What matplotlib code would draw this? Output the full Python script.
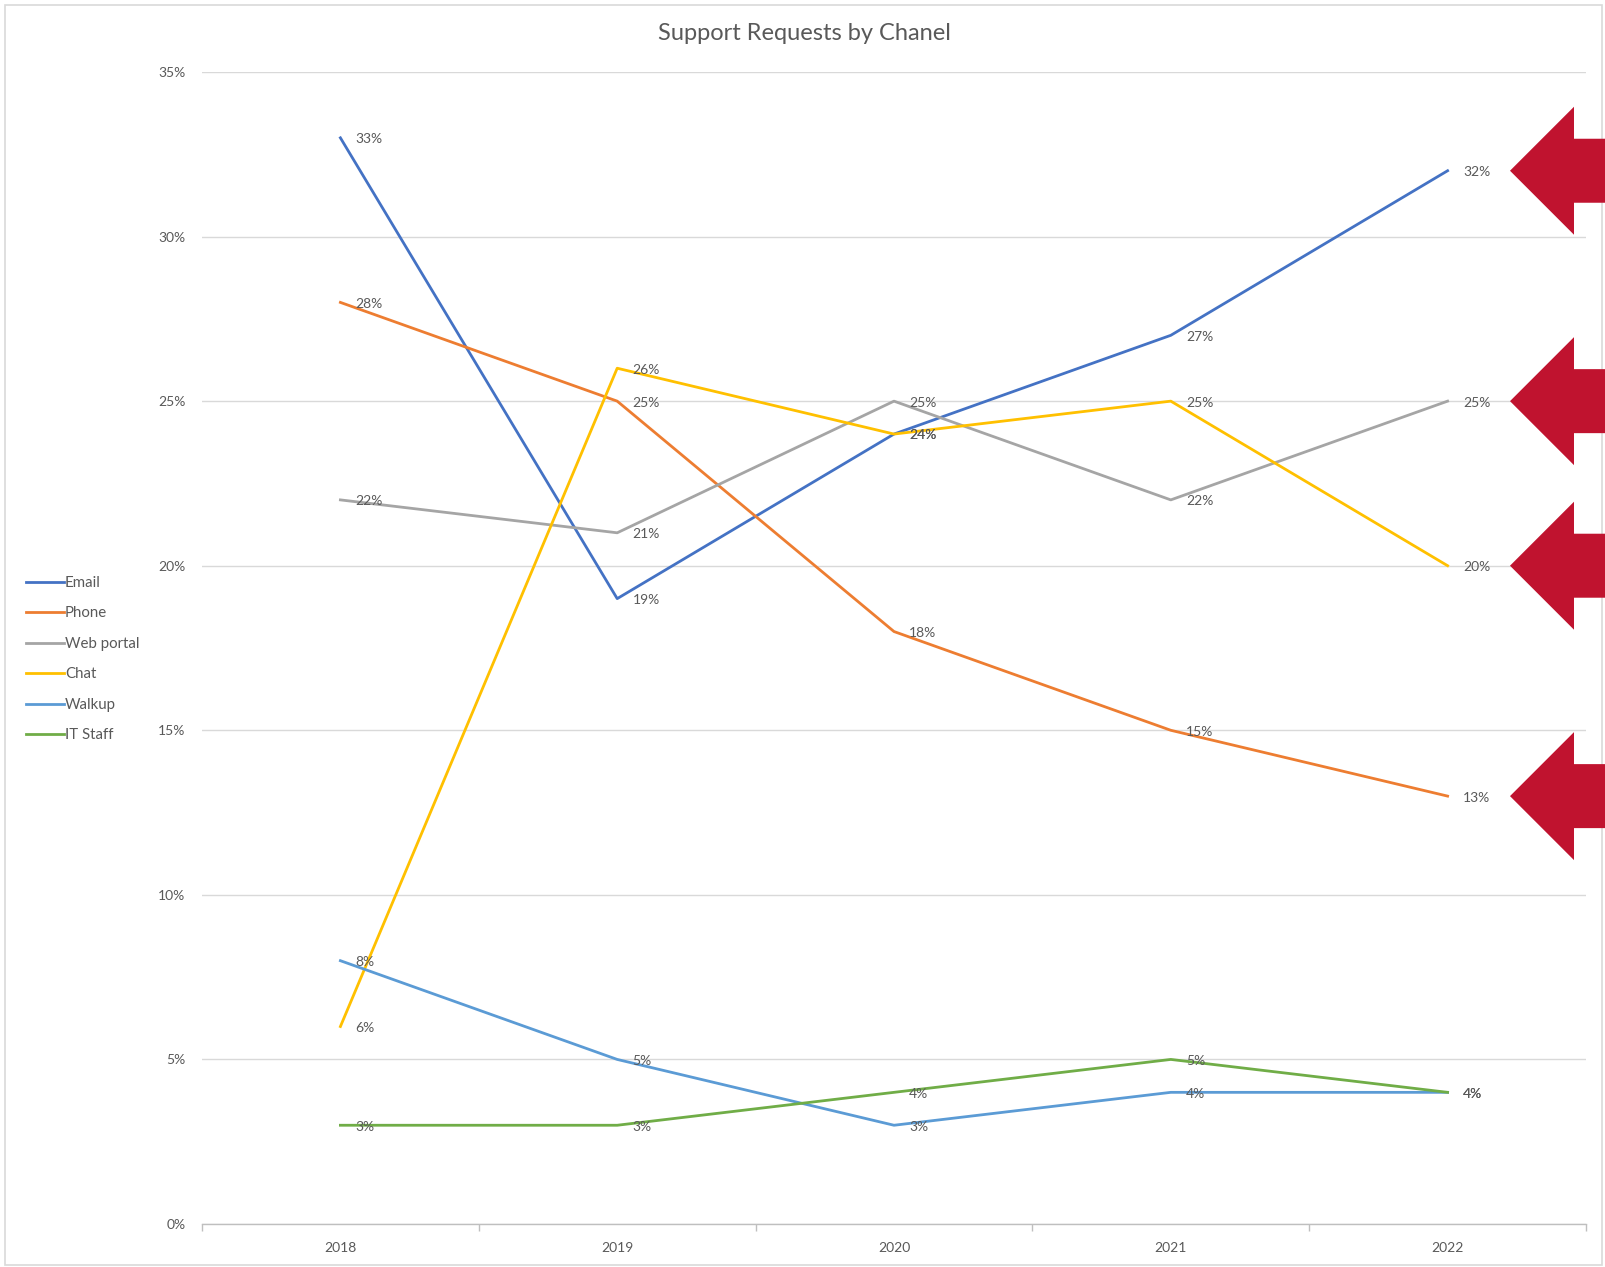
import matplotlib
matplotlib.use("Agg")
import matplotlib.pyplot as plt
from matplotlib.patches import Polygon, Rectangle
from matplotlib.ticker import FixedLocator

# Chart data (percent of support requests)
years = ["2018", "2019", "2020", "2021", "2022"]
email = [33, 19, 24, 27, 32]
phone = [28, 25, 18, 15, 13]
web_portal = [22, 21, 25, 22, 25]
chat = [6, 26, 24, 25, 20]
walkup = [8, 5, 3, 4, 4]
it_staff = [3, 3, 4, 5, 4]

series_names = ["Email", "Phone", "Web portal", "Chat", "Walkup", "IT Staff"]
series_values = [email, phone, web_portal, chat, walkup, it_staff]
series_colors = ["#4472C4", "#ED7D31", "#A5A5A5", "#FFC000", "#5B9BD5", "#70AD47"]

# 2022 values pointed at by the red arrows
highlighted = [32, 25, 20, 13]

TEXT = "#595959"
GRID = "#D9D9D9"
plt.rcParams["font.family"] = ["Lato", "DejaVu Sans"]

W, H = 1605, 1267
fig = plt.figure(figsize=(W / 100, H / 100), dpi=100)
fig.subplots_adjust(left=202 / W, right=1586 / W, top=1 - 72 / H, bottom=1 - 1224 / H)
ax = fig.add_subplot(111)

x = list(range(len(years)))
for name, vals, col in zip(series_names, series_values, series_colors):
    ax.plot(x, vals, color=col, lw=2.0, label=name, zorder=3)
    for xi, v in zip(x, vals):
        ax.annotate(f"{v}%", (xi, v), xytext=(11, -1), textcoords="offset points",
                    va="center", ha="left", fontsize=10, color=TEXT, zorder=4)

ax.set_xlim(-0.5, len(years) - 0.5)
ax.set_ylim(0, 35)
ax.set_yticks(range(0, 36, 5))
ax.set_yticklabels([f"{t}%" for t in range(0, 36, 5)])
ax.set_xticks(x)
ax.set_xticklabels(years)
ax.xaxis.set_minor_locator(FixedLocator([i - 0.5 for i in range(len(years) + 1)]))
ax.tick_params(axis="x", which="major", length=0, pad=13, labelsize=10, labelcolor=TEXT)
ax.tick_params(axis="x", which="minor", length=5, color="#BFBFBF", width=1)
ax.tick_params(axis="y", length=0, pad=12, labelsize=10, labelcolor=TEXT)
ax.grid(axis="y", color=GRID, lw=1, zorder=0)
for s in ["top", "right", "left"]:
    ax.spines[s].set_visible(False)
ax.spines["bottom"].set_color("#BFBFBF")
ax.spines["bottom"].set_linewidth(1)

fig.text(0.5015, 1 - 33 / H, "Support Requests by Chanel", ha="center", va="center",
         fontsize=17, color=TEXT)

leg = fig.legend(loc="center left", bbox_to_anchor=(26 / W, 1 - 659 / H), frameon=False,
                 fontsize=10.8, handlelength=2.5, handletextpad=0.1, labelspacing=1.1,
                 borderpad=0, borderaxespad=0)
for t in leg.get_texts():
    t.set_color(TEXT)

# chart border
fig.add_artist(Rectangle((5 / W, 2 / H), (W - 8) / W, (H - 7) / H, transform=fig.transFigure,
                         fill=False, edgecolor=GRID, lw=1.2))

# red arrows pointing at the 2022 values
inv = fig.transFigure.inverted()
for v in highlighted:
    yc = ax.transData.transform((0, v))[1]
    tip = 1510
    base = tip + 64
    end = W + 10
    pts_px = [(tip, yc), (base, yc + 64), (base, yc + 32), (end, yc + 32),
              (end, yc - 32), (base, yc - 32), (base, yc - 64)]
    pts = [inv.transform((px, py)) for px, py in pts_px]
    fig.add_artist(Polygon(pts, closed=True, facecolor="#C0132F", edgecolor="none",
                           transform=fig.transFigure, zorder=10))

fig.savefig("out.png", dpi=100)
